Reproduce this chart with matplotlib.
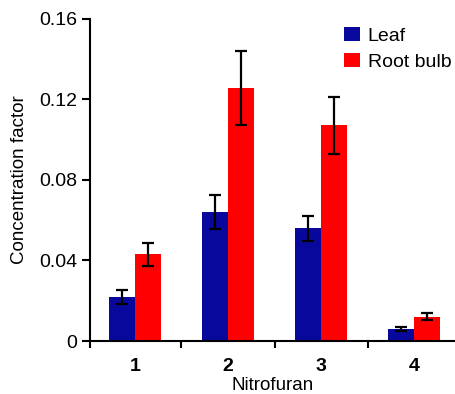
import numpy as np
import matplotlib.pyplot as plt
from matplotlib.ticker import FixedLocator

plt.rcParams['font.family'] = ['Liberation Sans', 'DejaVu Sans']

groups = ['1', '2', '3', '4']
leaf = [0.022, 0.064, 0.056, 0.006]
leaf_err = [0.0035, 0.0085, 0.0062, 0.0008]
root = [0.043, 0.1255, 0.107, 0.012]
root_err = [0.0056, 0.0185, 0.014, 0.0017]
yticks = [0, 0.04, 0.08, 0.12, 0.16]
ylabels = ['0', '0.04', '0.08', '0.12', '0.16']

x = np.arange(1, len(groups) + 1)
w = 0.28

fig = plt.figure(figsize=(4.56, 3.94), dpi=100)
ax = fig.add_axes([0.197, 0.1345, 0.803, 0.818])

ekw = dict(ecolor='black', elinewidth=1.6, capsize=4.5, capthick=1.6)
ax.bar(x - w / 2, leaf, w, yerr=leaf_err, color='#08089c', label='Leaf', error_kw=ekw)
ax.bar(x + w / 2, root, w, yerr=root_err, color='#ff0000', label='Root bulb', error_kw=ekw)

ax.set_xlim(0.515, 4.45)
ax.set_ylim(0, 0.16)
ax.set_xticks(x)
ax.set_xticklabels(groups, fontweight='bold', fontsize=14)
ax.tick_params(axis='x', which='major', length=0, pad=12)
ax.xaxis.set_minor_locator(FixedLocator([0.515, 1.5, 2.5, 3.5]))
ax.tick_params(axis='x', which='minor', length=5, width=1.5)
ax.set_yticks(yticks)
ax.set_yticklabels(ylabels, fontsize=14)
ax.tick_params(axis='y', length=6, width=1.5, pad=3)

for s in ['top', 'right']:
    ax.spines[s].set_visible(False)
for s in ['left', 'bottom']:
    ax.spines[s].set_linewidth(1.5)

ax.set_xlabel('Nitrofuran', fontsize=13.5, labelpad=2)
ax.set_ylabel('Concentration factor', fontsize=13.5, labelpad=8)

ax.legend(loc='upper right', bbox_to_anchor=(1.035, 1.03), frameon=False, fontsize=14,
          handlelength=0.8, handleheight=0.8, handletextpad=0.4, labelspacing=0.4)

fig.savefig('out.png')
